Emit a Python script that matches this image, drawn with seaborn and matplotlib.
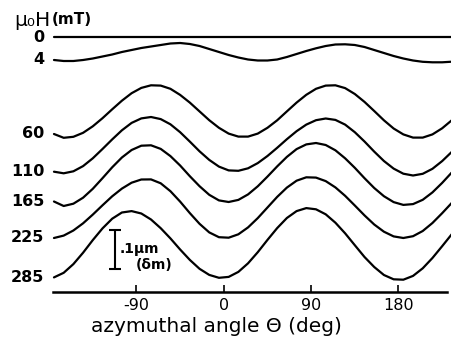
import numpy as np
import pandas as pd
import matplotlib
matplotlib.use('Agg')
import matplotlib.pyplot as plt
import seaborn as sns

# azimuthal sampling angles (deg)
theta = np.arange(-175, 236, 10)

# applied field for each trace (mT)
fields = ['0', '4', '60', '110', '165', '225', '285']

# trace heights above the axis (1 unit = 1/390 um)
h_0 = [255.0] * len(theta)
h_4 = [232, 231, 231, 232, 233.5, 235.5, 237.5, 240, 242, 244, 245.5, 247, 248.5, 249,
       248, 246, 243, 240, 237, 234.5, 232.5, 231.5, 231.5, 232.5, 235, 238, 241, 243.7,
       246, 247.5, 247.7, 247, 245, 242, 239, 236, 233.5, 231.5, 230.2, 229.7, 229.7, 230.3]
h_60 = [158, 154.2, 155.2, 159.2, 165.7, 173.8, 182.7, 191.3, 198.8, 204.1, 206.7, 206.4,
        203.2, 197.1, 189.4, 180.6, 171.8, 164.2, 158.4, 155.4, 155.4, 158.4, 164.2, 171.7,
        180.6, 189.4, 197.2, 203.2, 206.4, 206.7, 203.9, 198, 190.1, 181, 171.7, 163.5,
        157.6, 154.4, 154.4, 157.6, 163.7, 171.8]
h_110 = [120.3, 118.7, 120.7, 125.9, 133.7, 143, 152.6, 161.7, 169.1, 173.6, 175, 172.9,
         167.7, 159.8, 150.4, 140.7, 132.1, 125.4, 121.6, 121.2, 123.7, 128.9, 136, 144.2,
         152.8, 160.8, 167.4, 171.8, 173.5, 172.1, 167.4, 159.8, 150.5, 140.4, 131, 123.4,
         118.3, 116.5, 118.2, 123.2, 130.9, 140.2]
h_165 = [90.5, 86, 88.3, 94.3, 103.2, 113.8, 124.7, 134.5, 142, 146.3, 146.7, 143.1,
         135.9, 126.5, 115.8, 105.8, 97.2, 91.6, 90, 92.1, 97.6, 105.7, 115.4, 125.6,
         135.1, 142.9, 147.6, 149, 147, 141.7, 133.7, 124.2, 113.8, 104, 95.8, 89.9,
         87.1, 87.9, 92.2, 99.6, 109.1, 119.6]
h_225 = [54, 56.4, 61.5, 68.7, 77.4, 86.7, 95.7, 103.4, 109.3, 112.5, 112.6, 108.7,
         100.8, 90.4, 78.9, 68.2, 59.6, 54.8, 54.3, 57.7, 64.6, 73.9, 84.5, 95.1,
         104.4, 111.3, 114.7, 114.4, 110.9, 104.6, 96.2, 86.5, 76.6, 67.5, 60.3, 55.6,
         54, 55.8, 61, 69, 78.8, 89.2]
h_285 = [14.6, 19.2, 27.9, 39.3, 51.9, 63.6, 73.3, 79.5, 80.9, 78.5, 72.5, 63.8,
         53.6, 42.5, 32.1, 23.2, 17.1, 14.2, 15.1, 20.1, 28.7, 39.8, 52.1, 63.9,
         74, 80.9, 83.9, 82.7, 77.7, 69.3, 58.7, 46.8, 35, 25, 17, 12.7,
         12.3, 16.1, 23.7, 34, 45.8, 57.9]

traces = [h_0, h_4, h_60, h_110, h_165, h_225, h_285]

df = pd.concat([pd.DataFrame({'theta': theta, 'height': h, 'field': f})
                for f, h in zip(fields, traces)], ignore_index=True)

sns.set_theme(style='white')
plt.rcParams['font.family'] = ['DejaVu Sans']
plt.rcParams['axes.unicode_minus'] = False
plt.rcParams['text.color'] = 'black'
plt.rcParams['axes.labelcolor'] = 'black'

fig = plt.figure(figsize=(4.52, 3.42), dpi=100)
ax = fig.add_axes([53 / 452, 50 / 342, 394 / 452, 282 / 342])

sns.lineplot(data=df, x='theta', y='height', units='field', estimator=None,
             color='black', lw=1.6, ax=ax, sort=False)
for line in ax.lines:
    line.set_clip_on(False)

ax.set_xlim(-176, 230)
ax.set_ylim(0, 282)
ax.set_xticks([-90, 0, 90, 180])
ax.set_yticks([])
ax.set_ylabel('')
for s in ['left', 'right', 'top']:
    ax.spines[s].set_visible(False)
ax.spines['bottom'].set_linewidth(1.8)
ax.spines['bottom'].set_color('black')
ax.tick_params(axis='x', direction='in', length=5, width=1.2, colors='black',
               labelsize=11.5, pad=4, bottom=True)

ax.set_xlabel('azymuthal angle Θ (deg)', fontsize=14.5, color='black')
ax.xaxis.set_label_coords(0.416, -0.124)
ax.xaxis.label.set_va('center')

# field labels at the left end of each trace
for f, h in zip(fields, traces):
    ax.text(-185, h[0], f, ha='right', va='center', fontsize=11.5,
            fontweight='bold', color='black', clip_on=False)

fig.text(14 / 452, 1 - 20 / 342, 'μ₀H', fontsize=14.5, ha='left', va='center',
         color='black')
fig.text(52 / 452, 1 - 19 / 342, '(mT)', fontsize=11, fontweight='bold',
         ha='left', va='center', color='black')

# 0.1 um scale bar
ax.errorbar([-112], [42.5], yerr=[19.5], fmt='none', ecolor='black',
            elinewidth=1.5, capsize=4, capthick=1.5)
ax.text(-107, 43, '.1μm', fontsize=10, fontweight='bold', ha='left', va='center')
ax.text(-91, 27, '(δm)', fontsize=10, fontweight='bold', ha='left', va='center')

fig.savefig('out.png', dpi=100, facecolor='white')
